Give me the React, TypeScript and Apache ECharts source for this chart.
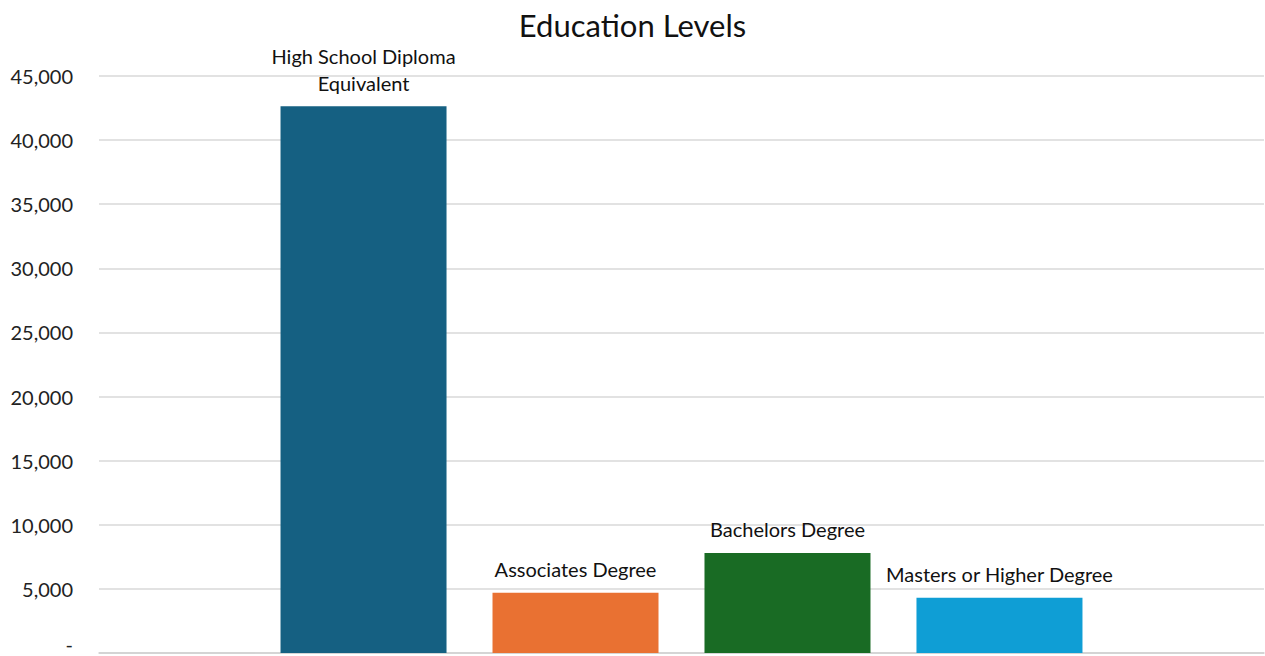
import React, { useEffect, useRef } from "react";
import * as echarts from "echarts";

const categories = ["Education Levels"];
const seriesNames = [
  "High School Diploma\nEquivalent",
  "Associates Degree",
  "Bachelors Degree",
  "Masters or Higher Degree",
];
const seriesValues = [42650, 4700, 7800, 4300];
const seriesColors = ["#156082", "#E97132", "#196B24", "#0F9ED5"];
const yTicks = [0, 5000, 10000, 15000, 20000, 25000, 30000, 35000, 40000, 45000];

const FONT = "Lato, 'Open Sans', sans-serif";

export default function App() {
  const ref = useRef<HTMLDivElement>(null);
  useEffect(() => {
    if (!ref.current) return;
    const chart = echarts.init(ref.current, undefined, { renderer: "svg" });
    chart.setOption({
      animation: false,
      backgroundColor: "#ffffff",
      title: {
        text: "Education Levels",
        left: "center",
        top: 4,
        textStyle: { fontFamily: FONT, fontSize: 31, fontWeight: "normal", color: "#111" },
      },
      grid: {
        left: 99,
        right: 1,
        top: 76,
        height: 577,
        containLabel: false,
        outerBoundsMode: "none",
      },
      xAxis: {
        type: "category",
        data: categories,
        axisLine: { show: true, lineStyle: { color: "#d0d0d0", width: 1.5 } },
        axisTick: { show: false },
        axisLabel: { show: false },
      },
      yAxis: {
        type: "value",
        min: yTicks[0],
        max: yTicks[yTicks.length - 1],
        interval: 5000,
        axisLine: { show: false },
        axisTick: { show: false },
        splitLine: { lineStyle: { color: "#d9d9d9", width: 1.5 } },
        axisLabel: {
          margin: 26,
          fontFamily: FONT,
          fontSize: 20,
          color: "#222",
          formatter: (v: number) => (v === 0 ? "{z|-}" : v.toLocaleString("en-US")),
          rich: {
            z: { fontFamily: FONT, fontSize: 20, lineHeight: 10, color: "#222", padding: [0, 0, 18, 0] },
          },
        },
      },
      series: seriesNames.map((name, i) => ({
        type: "bar",
        name,
        data: [seriesValues[i]],
        barWidth: 166,
        barGap: "27.7%",
        itemStyle: { color: seriesColors[i] },
        label: {
          show: true,
          position: "top",
          distance: 10,
          formatter: name,
          fontFamily: FONT,
          fontSize: 20,
          lineHeight: 27,
          color: "#111",
          align: "center",
        },
      })),
    });
    return () => chart.dispose();
  }, []);
  return (
    <div
      ref={ref}
      style={{ position: "fixed", left: 0, top: 0, width: 1265, height: 656, background: "#fff" }}
    />
  );
}
